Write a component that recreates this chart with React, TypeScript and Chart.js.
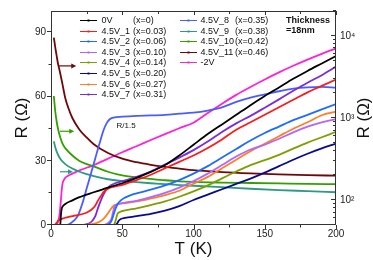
import React, { useEffect, useRef } from "react";
import { Chart, registerables } from "chart.js";

Chart.register(...registerables);

// ---------- axis ticks ----------
const X_TICKS = [0, 50, 100, 150, 200];
const X_MINOR = [25, 75, 125, 175];
const YL_TICKS = [0, 30, 60, 90];
const YL_MINOR = [15, 45, 75];
const YR_TICKS = [100, 1000, 10000];
const YR_TICK_LABELS = ["10\u00B2", "10\u00B3", "10\u2074"];

// ---------- series names ----------
const NAMES = [
  "0V", "4.5V_1", "4.5V_2", "4.5V_3", "4.5V_4", "4.5V_5", "4.5V_6", "4.5V_7",
  "4.5V_8", "4.5V_9", "4.5V_10", "4.5V_11", "-2V",
];
const X_LABELS = [
  "(x=0)", "(x=0.03)", "(x=0.06)", "(x=0.10)", "(x=0.14)", "(x=0.20)", "(x=0.27)", "(x=0.31)",
  "(x=0.35)", "(x=0.38)", "(x=0.42)", "(x=0.46)", "",
];

// ---------- data (T in K, R in Ohm) ----------
const T_0V = [2, 5, 6.5, 7, 7.5, 8, 10, 15, 20, 30, 40, 50, 60, 70, 80, 90, 100, 110, 120, 130, 140, 150, 160, 170, 180, 190, 200];
const R_0V = [0, 0, 0.3, 5, 7.5, 8.5, 9.8, 11.5, 13, 15.3, 17.5, 19.5, 22, 24.8, 28, 32.5, 37.5, 42.5, 47, 51.5, 56, 60.3, 64.3, 68.3, 72, 75.5, 79];

const T_1 = [2, 3, 4, 5, 8, 12, 18, 24, 27, 29, 31, 33, 35, 37, 40, 45, 50, 60, 70, 80, 90, 100, 110, 120, 130, 140, 150, 160, 170, 180, 190, 200];
const R_1 = [0, 0.3, 1, 2, 3, 3.7, 4.5, 5.5, 6.5, 7.5, 9, 11.5, 13.5, 15.5, 17, 18, 18.8, 21, 23.5, 26.5, 29.5, 32.5, 36, 40, 44.5, 48, 51.5, 55, 58.5, 62, 65, 68];

const T_2 = [2, 39, 41, 42.5, 44, 45.5, 47, 49, 52, 56, 60, 70, 80, 90, 100, 110, 120, 130, 140, 150, 160, 170, 180, 190, 200];
const R_2 = [0, 0, 0.5, 2, 5, 8, 10, 11.5, 12.8, 14, 14.8, 16.5, 18.5, 21, 24, 27.5, 31.5, 35.5, 39.5, 43, 46, 49, 51.5, 54, 56.5];

const T_3 = [2, 36, 39, 41, 42.5, 43.5, 44.5, 46, 50, 60, 70, 80, 90, 100, 110, 120, 130, 140, 150, 160, 170, 180, 190, 200];
const R_3 = [0, 0, 0.5, 1.5, 3, 6, 8.5, 9.5, 10.2, 11.3, 13, 15, 17.5, 20.5, 24, 28, 32, 35.3, 37.5, 40.3, 43.3, 46, 48, 49.5];

const T_4 = [2, 43, 44.5, 45.5, 46.5, 48, 52, 60, 70, 80, 90, 100, 110, 120, 130, 140, 150, 160, 170, 180, 190, 200];
const R_4 = [0, 0, 0.5, 2.5, 5, 6, 6.8, 7.8, 9.3, 11, 13.2, 15.7, 18.5, 21.8, 25, 28, 30.3, 32.8, 35.7, 38.5, 41, 43.5];

const T_5 = [2, 45, 46.5, 47.5, 49, 52, 60, 70, 80, 90, 100, 110, 120, 130, 140, 150, 160, 170, 180, 190, 200];
const R_5 = [0, 0, 0.8, 2, 2.8, 3.3, 4.1, 5.2, 6.7, 8.8, 11.7, 14.2, 16.7, 19.2, 21.7, 24.5, 27.5, 30.5, 33.3, 35.8, 38];

const T_6 = [2, 25, 28, 31, 34, 37, 40, 42, 44, 46, 50, 60, 70, 80, 90, 100, 110, 120, 130, 140, 150, 160, 170, 180, 190, 200];
const R_6 = [0, 0, 0.3, 0.8, 1.5, 3, 5.5, 7.5, 9, 9.6, 10.1, 11, 12.4, 14, 16, 19.3, 22.5, 26.5, 30.5, 34.5, 38, 41.5, 45, 48, 51.3, 53];

const T_7 = [2, 20, 24, 27, 29, 31, 33, 35, 37, 40, 45, 50, 60, 70, 80, 90, 100, 110, 120, 130, 140, 150, 160, 170, 180, 190, 200];
const R_7 = [0, 0, 0.2, 0.8, 2, 4, 8, 11.5, 14.5, 17.5, 19.5, 20.5, 22.5, 25, 28.3, 31.5, 35, 39, 43.5, 47.5, 51, 54.8, 58.7, 62.7, 66.5, 70, 74];

const T_8 = [2, 10, 13, 16, 19, 22, 25, 28, 31, 34, 37, 39, 41, 44, 50, 60, 70, 80, 90, 100, 110, 120, 130, 140, 150, 160, 170, 180, 190, 200];
const R_8 = [0, 0, 0.5, 2, 4.5, 10, 17, 24, 31, 38, 44.5, 47.5, 49.3, 50.2, 50.6, 51, 51.2, 51.5, 52, 52.5, 53.5, 55, 57.5, 59.5, 61, 62.5, 63.7, 64.3, 64.5, 64.2];

const T_9 = [2, 3, 4, 5, 7, 10, 15, 20, 25, 30, 40, 50, 60, 70, 80, 90, 100, 120, 140, 160, 180, 200];
const R_9 = [520, 440, 390, 355, 310, 275, 243, 222, 208, 196, 180, 172, 166, 161, 157, 153, 150, 144, 138, 133, 129, 125];

const T_10 = [2, 3, 4, 5, 6, 8, 10, 15, 20, 25, 30, 40, 50, 60, 70, 80, 90, 100, 120, 140, 160, 180, 200];
const R_10 = [1850, 1200, 900, 730, 620, 490, 430, 350, 300, 275, 258, 222, 200, 190, 182, 175, 170, 167, 164, 162, 160, 158, 157];

const T_11 = [2, 3, 4, 5, 6, 8, 10, 12, 15, 20, 25, 30, 40, 50, 60, 70, 80, 90, 100, 120, 140, 160, 180, 200];
const R_11 = [9500, 7200, 5650, 4500, 3800, 2600, 1750, 1350, 1000, 720, 580, 480, 375, 320, 290, 270, 255, 243, 232, 220, 212, 206, 202, 199];

const T_M2 = [2, 4, 5, 6, 7, 7.5, 8, 9, 10, 12, 15, 20, 30, 40, 50, 60, 70, 80, 90, 100, 110, 120, 130, 140, 150, 160, 170, 180, 190, 200];
const R_M2 = [0, 0.3, 1.5, 5, 12, 16, 19, 21, 22, 23, 24, 25.5, 28, 31, 34, 36.8, 39.7, 42.5, 45.2, 47.8, 52.3, 56.7, 60.8, 64.5, 68, 71.3, 74.4, 77.3, 80, 82.5];

const SERIES_T = [T_0V, T_1, T_2, T_3, T_4, T_5, T_6, T_7, T_8, T_9, T_10, T_11, T_M2];
const SERIES_R = [R_0V, R_1, R_2, R_3, R_4, R_5, R_6, R_7, R_8, R_9, R_10, R_11, R_M2];
// which axis each series uses (right = log axis)
const SERIES_AXIS = ["y", "y", "y", "y", "y", "y", "y", "y", "y", "y2", "y2", "y2", "y"];

// ---------- styles ----------
const COLORS = [
  "#000000", "#ff1a1a", "#1f6bff", "#b266ff", "#7f9f00", "#0a0a8c", "#ff7f20", "#7a2be0",
  "#4a5cff", "#2e9a82", "#33a000", "#6e0808", "#ff22d4",
];

// annotation arrows (point to right axis): series index, T start, T end, R (right axis)
const ARROWS = [
  { s: 11, t0: 5.3, t1: 17, r: 4300 },
  { s: 10, t0: 6.3, t1: 15.6, r: 690 },
  { s: 9, t0: 6.3, t1: 14.7, r: 222 },
];

const FONT = "'Liberation Sans', Arial, sans-serif";

const decor = {
  id: "decor",
  afterDatasetsDraw(chart: any) {
    const { ctx, chartArea: a, scales } = chart;
    const xs = scales.x, yl = scales.y, yr = scales.y2;
    ctx.save();
    ctx.strokeStyle = "#333";
    ctx.lineWidth = 1;
    const line = (x1: number, y1: number, x2: number, y2: number) => {
      ctx.beginPath();
      ctx.moveTo(x1, y1);
      ctx.lineTo(x2, y2);
      ctx.stroke();
    };
    // frame
    ctx.strokeRect(a.left + 0.5, a.top + 0.5, a.right - a.left - 1, a.bottom - a.top - 1);
    // x ticks (bottom outward, top inward)
    X_TICKS.forEach((v) => {
      const p = Math.round(xs.getPixelForValue(v)) + 0.5;
      line(p, a.bottom, p, a.bottom + 4);
      line(p, a.top, p, a.top + 4);
    });
    X_MINOR.forEach((v) => {
      const p = Math.round(xs.getPixelForValue(v)) + 0.5;
      line(p, a.bottom, p, a.bottom + 2.5);
      line(p, a.top, p, a.top + 3);
    });
    // left ticks outward
    YL_TICKS.forEach((v) => {
      const p = Math.round(yl.getPixelForValue(v)) - 0.5;
      line(a.left - 4, p, a.left, p);
    });
    YL_MINOR.forEach((v) => {
      const p = Math.round(yl.getPixelForValue(v)) - 0.5;
      line(a.left - 2.5, p, a.left, p);
    });
    // right log ticks inward
    YR_TICKS.forEach((v) => {
      const p = Math.round(yr.getPixelForValue(v)) - 0.5;
      line(a.right - 5, p, a.right, p);
    });
    [10, 100, 1000, 10000].forEach((d) => {
      for (let m = 2; m <= 9; m++) {
        const v = m * d;
        if (v < yr.min || v > yr.max) continue;
        const p = Math.round(yr.getPixelForValue(v)) - 0.5;
        line(a.right - 3, p, a.right, p);
      }
    });

    // arrows
    ARROWS.forEach((ar) => {
      const x0 = xs.getPixelForValue(ar.t0);
      const x1 = xs.getPixelForValue(ar.t1);
      const y = yr.getPixelForValue(ar.r);
      ctx.strokeStyle = COLORS[ar.s];
      ctx.fillStyle = COLORS[ar.s];
      ctx.lineWidth = 1.2;
      line(x0, y, x1 - 3, y);
      ctx.beginPath();
      ctx.moveTo(x1 + 1, y);
      ctx.lineTo(x1 - 4, y - 2.5);
      ctx.lineTo(x1 - 4, y + 2.5);
      ctx.closePath();
      ctx.fill();
    });

    // R/1.5 label
    ctx.fillStyle = "#111";
    ctx.font = `8px ${FONT}`;
    ctx.textAlign = "left";
    ctx.textBaseline = "middle";
    ctx.fillText("R/1.5", xs.getPixelForValue(46), yl.getPixelForValue(46.5));

    // legend
    ctx.font = `9px ${FONT}`;
    NAMES.forEach((name, i) => {
      const col = i < 8 ? 0 : 1;
      const row = col === 0 ? i : i - 8;
      const lx = col === 0 ? 80 : 180;
      const tx = col === 0 ? 101.5 : 200.5;
      const px = col === 0 ? 133 : 235;
      const y = 20 + row * 10.6;
      ctx.strokeStyle = COLORS[i];
      ctx.lineWidth = 1;
      line(lx, Math.round(y) + 0.5, lx + 17, Math.round(y) + 0.5);
      ctx.fillStyle = COLORS[i];
      ctx.fillRect(lx + 7.5, Math.round(y) - 0.5, 2, 2);
      ctx.fillStyle = "#111";
      ctx.fillText(name, tx, y + 0.5);
      if (X_LABELS[i]) ctx.fillText(X_LABELS[i], px, y + 0.5);
    });

    // thickness note
    ctx.font = `bold 9px ${FONT}`;
    ctx.fillText("Thickness", 286, 20.5);
    ctx.fillText("=18nm", 286, 31);

    // right axis title (reads bottom to top)
    ctx.save();
    ctx.translate(364, (a.top + a.bottom) / 2);
    ctx.rotate(-Math.PI / 2);
    ctx.font = `17px ${FONT}`;
    ctx.textAlign = "center";
    ctx.textBaseline = "middle";
    ctx.fillText("R (\u03A9)", 0, 0);
    ctx.restore();

    ctx.restore();
  },
};

export default function App() {
  const ref = useRef<HTMLCanvasElement>(null);
  useEffect(() => {
    if (!ref.current) return;
    const datasets = NAMES.map((name, i) => ({
      label: name,
      data: SERIES_T[i].map((t, j) => ({ x: t, y: SERIES_R[i][j] })),
      yAxisID: SERIES_AXIS[i],
      borderColor: COLORS[i],
      backgroundColor: COLORS[i],
      borderWidth: 1.8,
      pointRadius: 0,
      tension: 0.4,
      cubicInterpolationMode: "monotone" as const,
      fill: false,
    }));
    const chart = new Chart(ref.current, {
      type: "line",
      data: { datasets },
      plugins: [decor],
      options: {
        responsive: false,
        animation: false,
        layout: { padding: { top: 1, left: 0, right: 0, bottom: 0 } },
        plugins: { legend: { display: false }, tooltip: { enabled: false } },
        scales: {
          x: {
            type: "linear",
            position: "bottom",
            min: 0,
            max: 200,
            afterBuildTicks: (s: any) => { s.ticks = X_TICKS.map((v) => ({ value: v })); },
            afterFit: (s: any) => { s.height = 35; },
            grid: { display: false, drawTicks: false },
            border: { display: false },
            ticks: { font: { family: FONT, size: 10 }, color: "#222", padding: 3, maxRotation: 0 },
            title: { display: true, text: "T (K)", font: { family: FONT, size: 17 }, color: "#111", padding: { top: 0, bottom: 0 } },
          },
          y: {
            type: "linear",
            position: "left",
            min: 0,
            max: 100,
            afterBuildTicks: (s: any) => { s.ticks = YL_TICKS.map((v) => ({ value: v })); },
            afterFit: (s: any) => { s.width = 51; },
            grid: { display: false, drawTicks: false },
            border: { display: false },
            ticks: { font: { family: FONT, size: 10 }, color: "#222", padding: 5 },
            title: { display: true, text: "R (\u03A9)", font: { family: FONT, size: 17 }, color: "#111", padding: { top: 12, bottom: 0 } },
          },
          y2: {
            type: "logarithmic",
            position: "right",
            min: 50,
            max: 20000,
            afterBuildTicks: (s: any) => { s.ticks = YR_TICKS.map((v) => ({ value: v })); },
            afterFit: (s: any) => { s.width = 37; },
            grid: { display: false, drawTicks: false },
            border: { display: false },
            ticks: {
              font: { family: FONT, size: 10 },
              color: "#222",
              padding: 4,
              callback: (v: any) => {
                const k = YR_TICKS.indexOf(Number(v));
                return k >= 0 ? YR_TICK_LABELS[k] : "";
              },
            },
          },
        },
      },
    });
    return () => chart.destroy();
  }, []);
  return (
    <div style={{ position: "absolute", left: 0, top: 0, width: 373, height: 260 }}>
      <canvas ref={ref} width={373} height={260} />
    </div>
  );
}
